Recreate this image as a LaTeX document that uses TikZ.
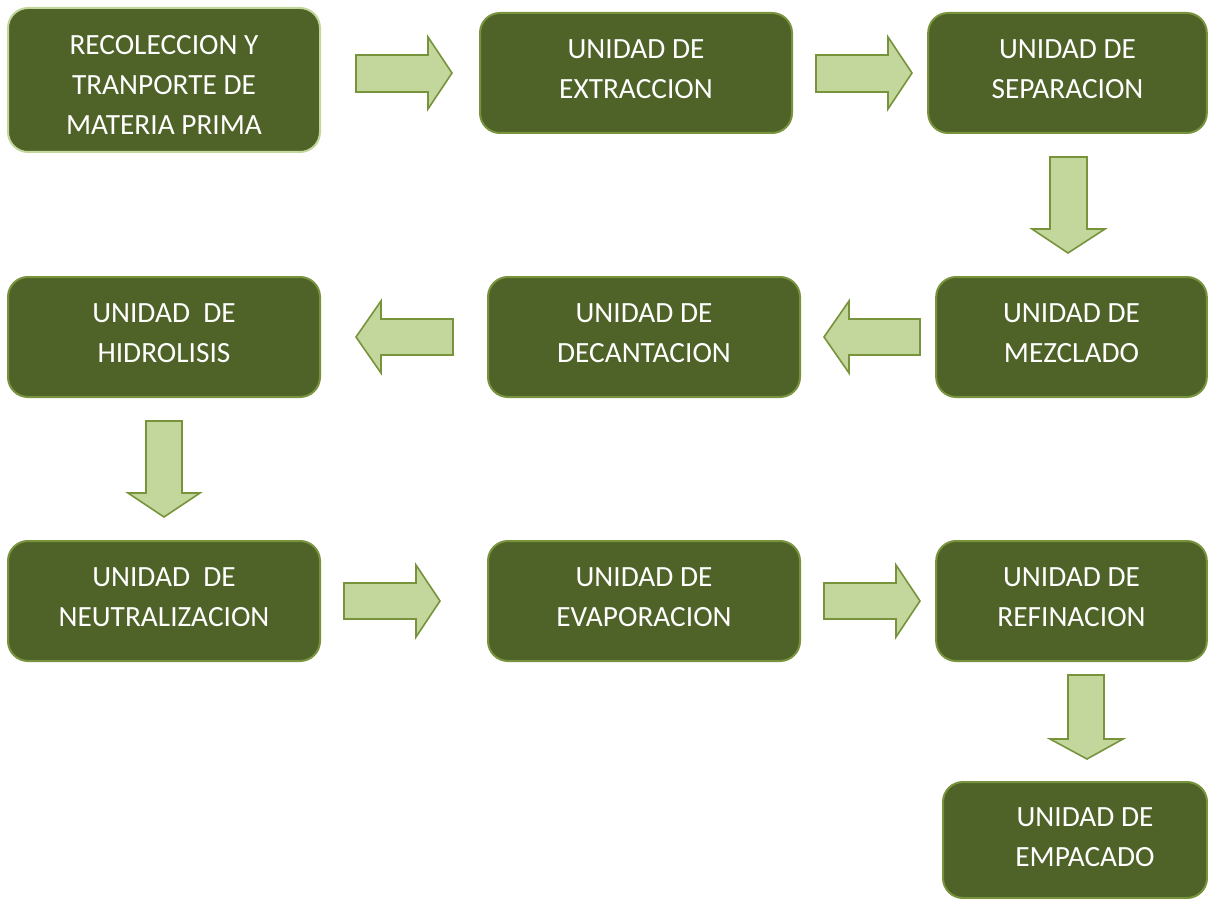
\documentclass[tikz,border=0pt]{standalone}
\usepackage{fontspec}
\setmainfont{Carlito}
\definecolor{boxfill}{HTML}{4F6228}
\definecolor{boxline}{HTML}{77933C}
\definecolor{paleline}{HTML}{C3D69B}
\definecolor{arrfill}{HTML}{C3D69B}
\definecolor{arrline}{HTML}{77933C}
\begin{document}
\begin{tikzpicture}[x=0.75pt,y=-0.75pt,
  unit/.style={draw=boxline, line width=1.5pt, fill=boxfill, rounded corners=15pt,
    minimum width=234pt, minimum height=90pt, inner sep=0pt},
  utext/.style={text=white, align=center, font=\fontsize{22}{30}\selectfont, inner sep=0pt},
  blockarrow/.style={draw=arrline, line width=1.2pt, fill=arrfill, line join=miter}]
\useasboundingbox (0,0) rectangle (1208,899);
% units
\node[unit, draw=paleline, minimum height=108pt,
  label={[utext,yshift=-3.75pt]center:{RECOLECCION Y\\TRANPORTE DE\\MATERIA PRIMA}}] (rec) at (164,80) {};
\node[unit, label={[utext,yshift=3pt]center:{UNIDAD DE\\EXTRACCION}}] (ext) at (636,73) {};
\node[unit, minimum width=209pt, label={[utext,yshift=3pt]center:{UNIDAD DE\\SEPARACION}}] (sep) at (1067.5,73) {};
\node[unit, minimum width=203pt, label={[utext,yshift=3pt]center:{UNIDAD DE\\MEZCLADO}}] (mez) at (1071.5,337) {};
\node[unit, label={[utext,yshift=3pt]center:{UNIDAD DE\\DECANTACION}}] (dec) at (644,337) {};
\node[unit, label={[utext,yshift=3pt]center:{UNIDAD\ \ DE\\HIDROLISIS}}] (hid) at (164,337) {};
\node[unit, label={[utext,yshift=3pt]center:{UNIDAD\ \ DE\\NEUTRALIZACION}}] (neu) at (164,601) {};
\node[unit, label={[utext,yshift=3pt]center:{UNIDAD DE\\EVAPORACION}}] (eva) at (644,601) {};
\node[unit, minimum width=203pt, label={[utext,yshift=3pt]center:{UNIDAD DE\\REFINACION}}] (ref) at (1071.5,601) {};
\node[unit, minimum width=198pt, minimum height=87pt,
  label={[utext,yshift=2.25pt,xshift=7.5pt]center:{UNIDAD DE\\EMPACADO}}] (emp) at (1075,840) {};
% block arrows (right)
\draw[blockarrow] (356,55) -- (428,55) -- (428,37) -- (452,73) -- (428,109) -- (428,92) -- (356,92) -- cycle;
\draw[blockarrow] (816,55) -- (888,55) -- (888,37) -- (912,73) -- (888,109) -- (888,92) -- (816,92) -- cycle;
% down (sep -> mez)
\draw[blockarrow] (1050,157) -- (1087,157) -- (1087,229) -- (1105,229) -- (1068,253) -- (1032,229) -- (1050,229) -- cycle;
% left (mez -> dec)
\draw[blockarrow] (920,319) -- (849,319) -- (849,301) -- (824,337) -- (849,373) -- (849,355) -- (920,355) -- cycle;
% left (dec -> hid)
\draw[blockarrow] (453,319) -- (381,319) -- (381,301) -- (356,337) -- (381,373) -- (381,355) -- (453,355) -- cycle;
% down (hid -> neu)
\draw[blockarrow] (146,421) -- (182,421) -- (182,493) -- (200,493) -- (164,517) -- (128,493) -- (146,493) -- cycle;
% right (neu -> eva)
\draw[blockarrow] (344,583) -- (416,583) -- (416,565) -- (440,601) -- (416,637) -- (416,619) -- (344,619) -- cycle;
% right (eva -> ref)
\draw[blockarrow] (824,583) -- (896,583) -- (896,565) -- (920,601) -- (896,637) -- (896,619) -- (824,619) -- cycle;
% down (ref -> emp)
\draw[blockarrow] (1068,675) -- (1104,675) -- (1104,739) -- (1123,739) -- (1087,759) -- (1050,739) -- (1068,739) -- cycle;
\end{tikzpicture}
\end{document}
